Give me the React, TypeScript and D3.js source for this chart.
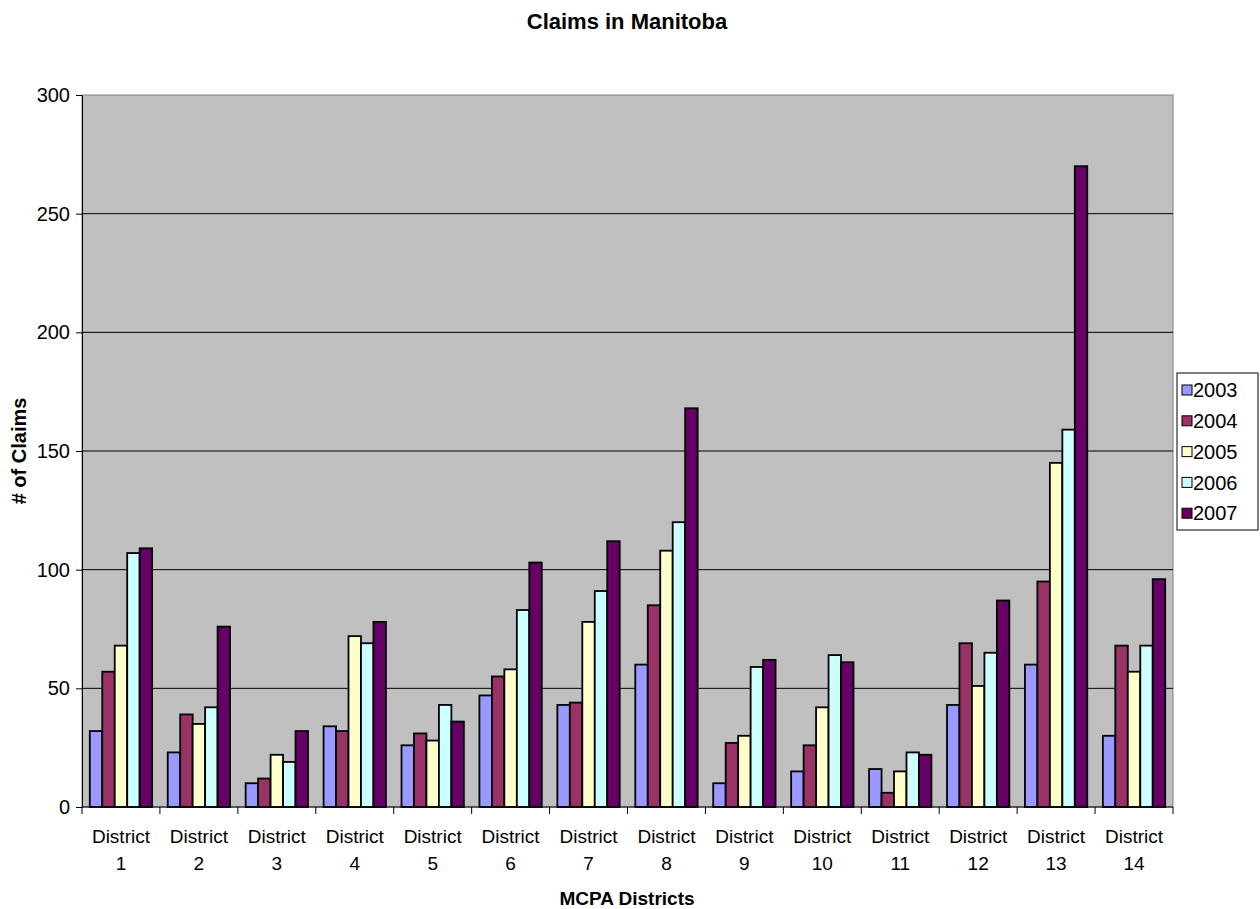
import React, { useEffect, useRef } from 'react';
import * as d3 from 'd3';

const districts = [
  'District 1', 'District 2', 'District 3', 'District 4', 'District 5', 'District 6', 'District 7',
  'District 8', 'District 9', 'District 10', 'District 11', 'District 12', 'District 13', 'District 14'
];
const years = ['2003', '2004', '2005', '2006', '2007'];

const claims2003 = [32, 23, 10, 34, 26, 47, 43, 60, 10, 15, 16, 43, 60, 30];
const claims2004 = [57, 39, 12, 32, 31, 55, 44, 85, 27, 26, 6, 69, 95, 68];
const claims2005 = [68, 35, 22, 72, 28, 58, 78, 108, 30, 42, 15, 51, 145, 57];
const claims2006 = [107, 42, 19, 69, 43, 83, 91, 120, 59, 64, 23, 65, 159, 68];
const claims2007 = [109, 76, 32, 78, 36, 103, 112, 168, 62, 61, 22, 87, 270, 96];

const yTicks = [0, 50, 100, 150, 200, 250, 300];

const COLORS = ['#9999ff', '#993366', '#ffffcc', '#ccffff', '#660066'];

const WIDTH = 1260;
const HEIGHT = 909;
const FONT = 'Liberation Sans, Arial, sans-serif';

export default function App() {
  const svgRef = useRef<SVGSVGElement>(null);

  useEffect(() => {
    if (!svgRef.current) return;
    const series = [claims2003, claims2004, claims2005, claims2006, claims2007];
    const margin = { top: 95, right: 87, bottom: 102, left: 82 };
    const innerWidth = WIDTH - margin.left - margin.right;
    const innerHeight = HEIGHT - margin.top - margin.bottom;

    d3.select(svgRef.current).selectAll('*').remove();
    const svg = d3.select(svgRef.current);

    const g = svg.append('g')
      .attr('transform', `translate(${margin.left},${margin.top})`);

    const x0 = d3.scaleBand<string>()
      .domain(districts)
      .range([0, innerWidth])
      .paddingInner(0.2)
      .paddingOuter(0.1);

    const x1 = d3.scaleBand<string>()
      .domain(years)
      .range([0, x0.bandwidth()]);

    const y = d3.scaleLinear()
      .domain([0, 300])
      .range([innerHeight, 0]);

    // plot area
    g.append('rect')
      .attr('width', innerWidth)
      .attr('height', innerHeight)
      .attr('fill', '#c0c0c0')
      .attr('stroke', '#808080')
      .attr('stroke-width', 1);

    // grid lines
    g.selectAll('.grid')
      .data(yTicks.filter(t => t > 0 && t < 300))
      .enter()
      .append('line')
      .attr('x1', 0)
      .attr('x2', innerWidth)
      .attr('y1', d => y(d))
      .attr('y2', d => y(d))
      .attr('stroke', '#000')
      .attr('stroke-width', 1);

    // bars
    districts.forEach((district, i) => {
      series.forEach((values, s) => {
        g.append('rect')
          .attr('x', (x0(district) || 0) + (x1(years[s]) || 0))
          .attr('y', y(values[i]))
          .attr('width', x1.bandwidth())
          .attr('height', innerHeight - y(values[i]))
          .attr('fill', COLORS[s])
          .attr('stroke', '#000')
          .attr('stroke-width', 1.8);
      });
    });

    // y axis
    const yAxis = g.append('g')
      .call(d3.axisLeft(y).tickValues(yTicks).tickSize(6).tickSizeOuter(0));
    yAxis.select('.domain').attr('stroke', '#000');
    yAxis.selectAll('text')
      .attr('font-family', FONT)
      .attr('font-size', 20)
      .attr('fill', '#000')
      .attr('x', -12);

    // x axis
    const xAxis = g.append('g')
      .attr('transform', `translate(0,${innerHeight})`);
    xAxis.append('line')
      .attr('x1', 0)
      .attr('x2', innerWidth)
      .attr('stroke', '#000');
    const step = x0.step();
    d3.range(districts.length + 1).forEach(k => {
      xAxis.append('line')
        .attr('x1', k * step)
        .attr('x2', k * step)
        .attr('y1', 0)
        .attr('y2', 7)
        .attr('stroke', '#000');
    });
    districts.forEach(d => {
      const cx = (x0(d) || 0) + x0.bandwidth() / 2;
      const parts = d.split(' ');
      const t = xAxis.append('text')
        .attr('text-anchor', 'middle')
        .attr('font-family', FONT)
        .attr('font-size', 19)
        .attr('fill', '#000');
      t.append('tspan').attr('x', cx).attr('y', 36).text(parts[0]);
      t.append('tspan').attr('x', cx).attr('y', 63).text(parts[1]);
    });

    // titles
    svg.append('text')
      .attr('x', 627)
      .attr('y', 29)
      .attr('text-anchor', 'middle')
      .attr('font-family', FONT)
      .attr('font-size', 22)
      .attr('font-weight', 'bold')
      .text('Claims in Manitoba');

    svg.append('text')
      .attr('x', 627)
      .attr('y', 905)
      .attr('text-anchor', 'middle')
      .attr('font-family', FONT)
      .attr('font-size', 19)
      .attr('font-weight', 'bold')
      .text('MCPA Districts');

    svg.append('text')
      .attr('transform', 'rotate(-90)')
      .attr('x', -451)
      .attr('y', 26)
      .attr('text-anchor', 'middle')
      .attr('font-family', FONT)
      .attr('font-size', 20)
      .attr('font-weight', 'bold')
      .text('# of Claims');

    // legend
    const legend = svg.append('g')
      .attr('transform', 'translate(1177,373)');
    legend.append('rect')
      .attr('width', 81)
      .attr('height', 157)
      .attr('fill', '#fff')
      .attr('stroke', '#000');
    years.forEach((yr, i) => {
      const row = legend.append('g')
        .attr('transform', `translate(0,${17 + i * 30.8})`);
      row.append('rect')
        .attr('x', 5)
        .attr('y', -5)
        .attr('width', 10)
        .attr('height', 10)
        .attr('fill', COLORS[i])
        .attr('stroke', '#000');
      row.append('text')
        .attr('x', 16)
        .attr('y', 0)
        .attr('dy', '0.36em')
        .attr('font-family', FONT)
        .attr('font-size', 20)
        .text(yr);
    });
  }, []);

  return (
    <svg
      ref={svgRef}
      width={WIDTH}
      height={HEIGHT}
      style={{ position: 'absolute', left: 0, top: 0, background: '#fff' }}
    />
  );
}
